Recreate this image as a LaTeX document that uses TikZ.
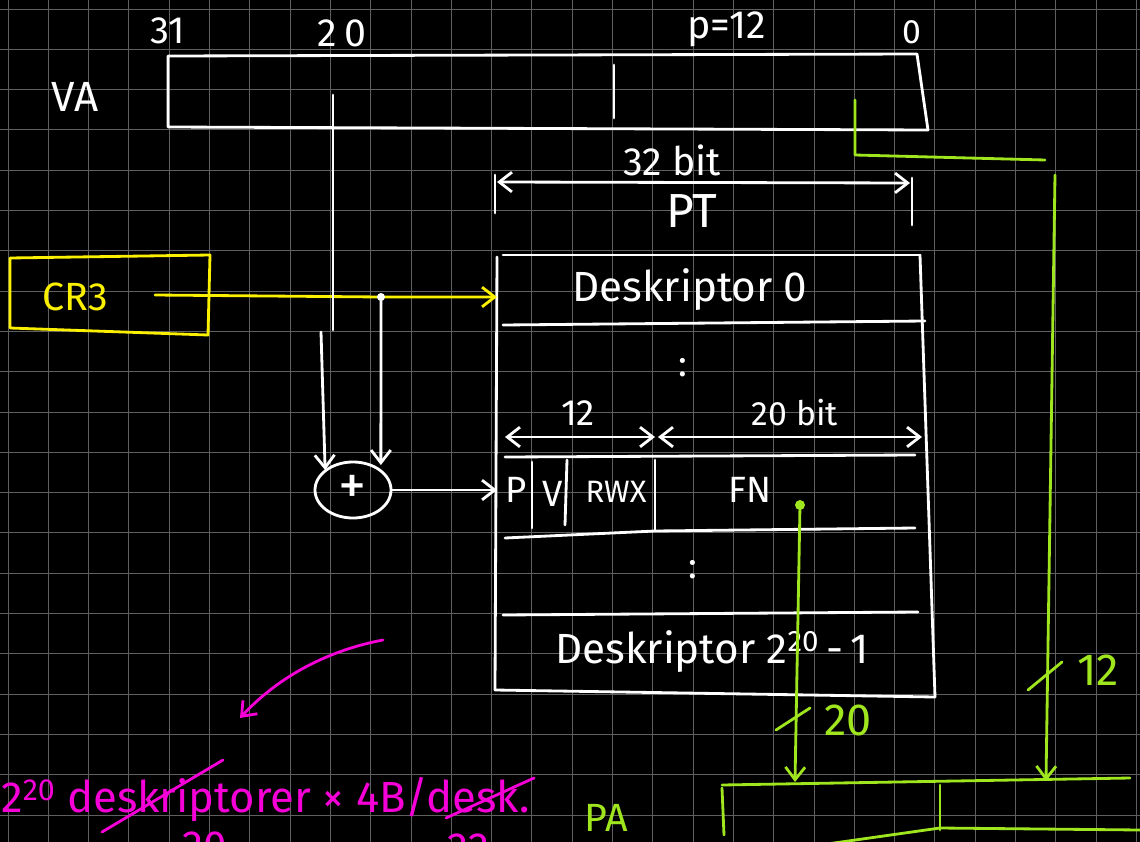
\documentclass[tikz,border=0pt]{standalone}
\usepackage{fontspec}
\setmainfont{Fira Sans}
\usetikzlibrary{arrows.meta,shapes.geometric}
\definecolor{board}{RGB}{0,0,0}
\definecolor{gridline}{RGB}{95,95,95}
\definecolor{penyellow}{RGB}{250,240,0}
\definecolor{pengreen}{RGB}{160,230,30}
\definecolor{penpink}{RGB}{245,0,215}
\tikzset{
  pen/.style={line width=2pt,line cap=round,line join=round},
  tip/.style={-{Straight Barb[length=9pt,width=14pt,line width=2pt]}},
  bitips/.style={{Straight Barb[length=9pt,width=14pt,line width=2pt]}-{Straight Barb[length=9pt,width=14pt,line width=2pt]}},
  hand/.style={font=\fontsize{#1}{#1}\selectfont,inner sep=0pt},
  hand/.default=24,
}
\begin{document}
\begin{tikzpicture}[x=0.025cm,y=-0.025cm]
  \fill[board] (0,0) rectangle (1140,842);
  \useasboundingbox (0,0) rectangle (1140,842);
  \clip (0,0) rectangle (1140,842);
  \foreach \i in {0,...,28}
    \draw[gridline,line width=0.6pt] ({8+40.3*\i},0) -- ({8+40.3*\i},842);
  \foreach \j in {0,...,20}
    \draw[gridline,line width=0.6pt] (0,{9+40.3*\j}) -- (1140,{9+40.3*\j});

  % virtual address
  \node[hand=30,white] (va-label) at (75,97) {VA};
  \node[hand=27,white] (bit31) at (168,31) {31};
  \node[hand=28,white] (bit20) at (342,33) {2\,0};
  \node[hand=28,white] (bitp) at (727,29) {p=12};
  \node[hand,white] (bit0) at (912,32) {0};
  \draw[pen,white] (168,56) -- (917,54) -- (928,130) -- (168,127) -- cycle;
  \draw[pen,white] (614,65) -- (614,118);
  \coordinate (va-dir) at (333,95);
  \coordinate (va-off) at (855,100);

  % offset into PA
  \coordinate (off-bend) at (855,155);
  \coordinate (off-end) at (1045,160);
  \coordinate (off-down) at (1055,175);
  \coordinate (pa-off) at (1046,781);
  \draw[pen,pengreen] (va-off) -- (off-bend) -- (off-end);
  \draw[pen,pengreen,tip] (off-down) -- (pa-off);
  \draw[pen,pengreen] (1028,690) -- (1062,662);
  \node[hand=32,pengreen] (off-bits) at (1098,670) {12};

  % page table
  \node[hand=28,white] (pt-width) at (672,160) {32 bit};
  \coordinate (ptw-l) at (497,182);
  \coordinate (ptw-r) at (910,183);
  \draw[pen,white,bitips] (ptw-l) -- (ptw-r);
  \draw[pen,white] (495,175) -- (495,213);
  \draw[pen,white] (912,178) -- (912,225);
  \node[hand=34,white] (pt-label) at (692,211) {PT};

  \coordinate (pt-nw) at (497,257);
  \coordinate (pt-ne) at (920,255);
  \coordinate (pt-sw) at (495,690);
  \coordinate (pt-se) at (935,697);
  \coordinate (pt-in) at (497,297);
  \draw[pen,white] (pt-nw) -- (pt-sw);
  \draw[pen,white] (pt-ne) -- (pt-se);
  \draw[pen,white] (503,255) -- (pt-ne);
  \draw[pen,white] (503,325) -- (925,321);
  \node[hand=30,white] (desc0) at (690,290) {Deskriptor 0};
  \node[hand=26,white] (dots1) at (683,368) {:};

  \node[hand=26,white] (flag-bits) at (578,413) {12};
  \node[hand=24,white] (fn-bits) at (795,413) {20 bit};
  \draw[pen,white,bitips] (505,437) -- (655,437);
  \draw[pen,white,bitips] (658,437) -- (922,437);
  \draw[pen,white] (505,457) -- (915,455);
  \draw[pen,white] (532,462) -- (532,528);
  \draw[pen,white] (567,460) -- (565,525);
  \draw[pen,white] (655,460) -- (655,530);
  \draw[pen,white] (505,538) -- (655,531) -- (915,528);
  \node[hand=26,white] (flag-p) at (516,490) {P};
  \node[hand=26,white] (flag-v) at (553,494) {V};
  \node[hand=22,white] (flag-rwx) at (616,492) {RWX};
  \node[hand=26,white] (fn) at (750,490) {FN};
  \coordinate (entry) at (497,490);

  \node[hand=26,white] (dots2) at (693,570) {:};
  \draw[pen,white] (503,615) -- (918,612);
  \node[hand=30,white] (desclast) at (712,652) {Deskriptor 2\textsuperscript{20}\,-\,1};
  \draw[pen,white] (pt-sw) -- (pt-se);

  % CR3 and adder
  \draw[pen,penyellow] (10,258) -- (210,255) -- (208,335) -- (10,328) -- cycle;
  \node[hand=28,penyellow] (cr3) at (75,297) {CR3};
  \coordinate (cr3-out) at (155,295);
  \coordinate (cr3-tap) at (381,297);
  \draw[pen,penyellow,tip] (cr3-out) -- (cr3-tap) -- (pt-in);
  \node[draw,pen,white,ellipse,minimum width=1.9cm,minimum height=1.4cm,
        inner sep=0pt,font=\fontsize{40}{40}\selectfont] (adder) at (353,490) {+};
  \coordinate (dir-jog) at (333,330);
  \coordinate (dir-left) at (321,332);
  \draw[pen,white] (va-dir) -- (dir-jog);
  \draw[pen,white,tip] (dir-left) -- (adder.north west |- 0,470);
  \fill[white] (cr3-tap) circle (4);
  \draw[pen,white,tip] (cr3-tap) -- (adder.north east |- 0,465);
  \draw[pen,white,tip] (adder.east) -- (entry);

  % frame number into PA
  \coordinate (fn-dot) at (800,505);
  \coordinate (pa-fn) at (795,782);
  \fill[pengreen] (fn-dot) circle (5);
  \draw[pen,pengreen,tip] (fn-dot) -- (pa-fn);
  \draw[pen,pengreen] (776,730) -- (810,708);
  \node[hand=32,pengreen] (fn-count) at (848,720) {20};

  % physical address
  \node[hand=28,pengreen] (pa-label) at (606,818) {PA};
  \draw[pen,pengreen] (722,785) -- (1130,778);
  \draw[pen,pengreen] (722,788) -- (724,835);
  \draw[pen,pengreen] (940,785) -- (940,830);
  \draw[pen,pengreen] (820,845) -- (940,828) -- (1140,830);

  % table size
  \coordinate (note-from) at (383,640);
  \coordinate (note-to) at (240,718);
  \draw[pen,penpink,tip] (note-from) .. controls (330,650) and (280,675) .. (note-to);
  \node[hand=31,penpink,anchor=west] (size-note) at (1,800) {2\textsuperscript{20} deskriptorer × 4B/desk.};
  \draw[pen,penpink] (102,832) -- (223,760);
  \draw[pen,penpink] (446,818) -- (534,778);
  \node[hand=30,penpink] (size-a) at (205,846) {20};
  \node[hand=30,penpink] (size-b) at (468,848) {22};
\end{tikzpicture}
\end{document}
